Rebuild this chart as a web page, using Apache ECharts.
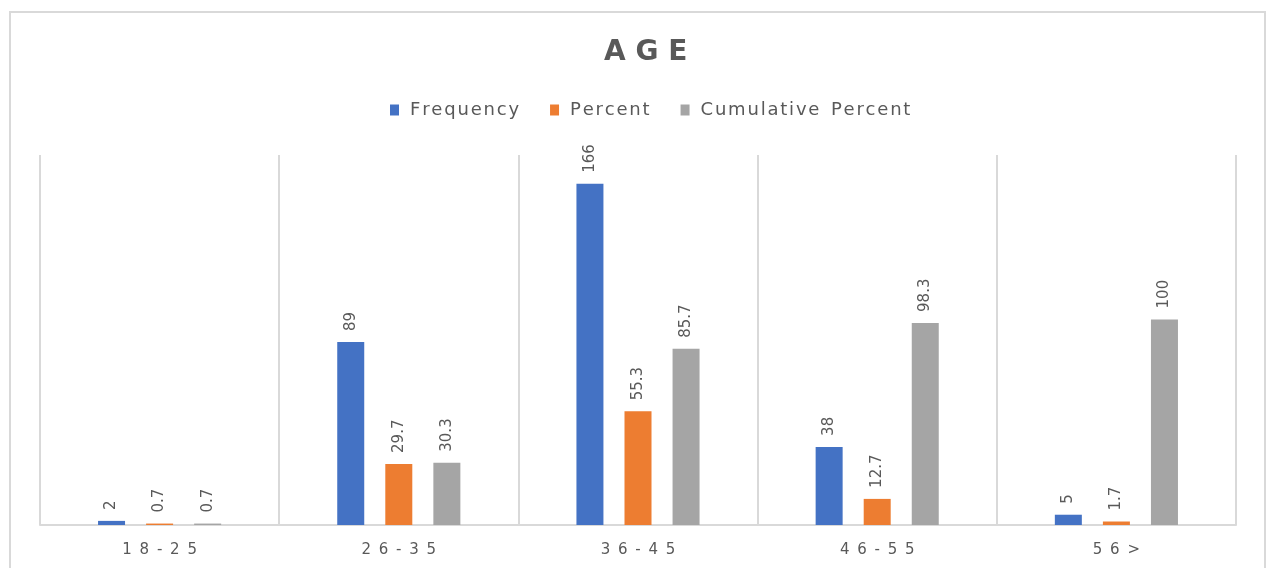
<!DOCTYPE html>
<html>
<head>
<meta charset="utf-8">
<script src="https://cdn.jsdelivr.net/npm/echarts@6/dist/echarts.min.js"></script>
<style>
html,body{margin:0;padding:0;background:#fff;}
#frame{position:absolute;left:9px;top:11px;width:1257px;height:600px;border:2px solid #d9d9d9;box-sizing:border-box;}
#chart{position:absolute;left:0;top:0;width:1270px;height:568px;}
</style>
</head>
<body>
<div id="frame"></div>
<div id="chart"></div>
<script>
const categories = ['18-25', '26-35', '36-45', '46-55', '56 >'];
const frequency = [2, 89, 166, 38, 5];
const percent = [0.7, 29.7, 55.3, 12.7, 1.7];
const cumulativePercent = [0.7, 30.3, 85.7, 98.3, 100];
const seriesNames = ['Frequency', 'Percent', 'Cumulative Percent'];

const THIN = '\u2009';
const HAIR = '\u200A';
function spaced(s, sep) {
  return s.replace(/ /g, '').split('').join(sep);
}

const chart = echarts.init(document.getElementById('chart'), null, {renderer: 'canvas'});
const labelCfg = {
  show: true, position: 'top', rotate: 90, align: 'left', verticalAlign: 'middle',
  distance: 11, color: '#595959', fontFamily: 'DejaVu Sans', fontSize: 15
};
function mk(name, data, color) {
  return {
    name: name, type: 'bar', data: data, barWidth: 27, barGap: '78%',
    itemStyle: {color: color}, label: labelCfg
  };
}
chart.setOption({
  animation: false,
  title: {
    text: 'A G E', left: 599, top: 34,
    textStyle: {fontFamily: 'DejaVu Sans', fontWeight: 'bold', fontSize: 28, color: '#595959'}
  },
  legend: {
    top: 96, left: 385, itemWidth: 9, itemHeight: 11, itemGap: 31,
    icon: 'rect',
    textStyle: {fontFamily: 'DejaVu Sans', fontSize: 18, color: '#595959', padding: [0, 0, 0, 6]},
    formatter: n => n.split(' ').map(w => w.split('').join(HAIR)).join('  '),
    data: seriesNames
  },
  grid: {left: 40, right: 34, top: 155, bottom: 43, containLabel: false},
  xAxis: {
    type: 'category', data: categories, boundaryGap: true,
    axisLine: {lineStyle: {color: '#d9d9d9', width: 2}},
    axisTick: {show: false},
    splitLine: {show: true, lineStyle: {color: '#d9d9d9', width: 2}},
    axisLabel: {
      color: '#595959', fontFamily: 'DejaVu Sans', fontSize: 15, margin: 18,
      formatter: v => spaced(v, ' ' + THIN)
    }
  },
  yAxis: {
    type: 'value', min: 0, max: 180, interval: 20, show: false,
    splitLine: {show: false}
  },
  series: [
    mk(seriesNames[0], frequency, '#4472C4'),
    mk(seriesNames[1], percent, '#ED7D31'),
    mk(seriesNames[2], cumulativePercent, '#A5A5A5')
  ]
});
</script>
</body>
</html>
